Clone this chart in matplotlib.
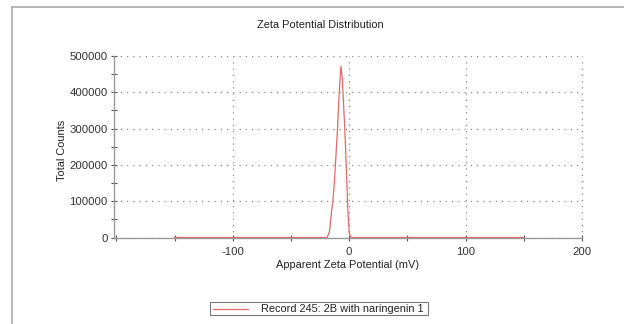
import matplotlib
matplotlib.use("Agg")
import matplotlib.pyplot as plt
from matplotlib.lines import Line2D
from matplotlib.patches import Rectangle
from matplotlib.ticker import MultipleLocator

plt.rcParams['font.family'] = ['Liberation Sans', 'DejaVu Sans']
plt.rcParams['axes.unicode_minus'] = False

# Data
zeta_mv = [-150, -19, -17, -16, -15, -14, -13, -12, -11, -10, -9, -8, -7,
           -6, -5, -4, -3, -2, -1, 0, 1, 2, 150]
counts = [0, 0, 15000, 45000, 75000, 100000, 140000, 190000, 245000, 300000,
          370000, 430000, 472000, 440000, 380000, 315000, 240000, 150000,
          70000, 15000, 3000, 0, 0]
x_ticks = [-100, 0, 100, 200]
y_ticks = [0, 100000, 200000, 300000, 400000, 500000]
title = "Zeta Potential Distribution"
xlabel = "Apparent Zeta Potential (mV)"
ylabel = "Total Counts"
legend_label = "Record 245: 2B with naringenin 1"

W, H = 624, 324
fig = plt.figure(figsize=(W / 100, H / 100), dpi=100)

# outer frame (top and left border lines)
fig.add_artist(Line2D([12 / W, 1.0], [1 - 7 / H, 1 - 7 / H], color='#aaaaaa', lw=1.2))
fig.add_artist(Line2D([12 / W, 12 / W], [0, 1 - 7 / H], color='#aaaaaa', lw=1.2))

left, right = 114 / W, 582 / W
bottom, top = 1 - 237.5 / H, 1 - 56 / H
ax = fig.add_axes([left, bottom, right - left, top - bottom])

line_color = '#e06a6a'
ax.plot(zeta_mv, counts, color=line_color, lw=0.9, zorder=3)

ax.set_xlim(-202, 200)
ax.set_ylim(0, 500000)
ax.set_xticks(x_ticks)
ax.set_xticklabels([str(v) for v in x_ticks])
ax.set_yticks(y_ticks)
ax.set_yticklabels([str(v) for v in y_ticks])
ax.xaxis.set_minor_locator(MultipleLocator(50))
ax.yaxis.set_minor_locator(MultipleLocator(50000))

for s in ['top', 'right']:
    ax.spines[s].set_visible(False)
for s in ['left', 'bottom']:
    ax.spines[s].set_color('#9a9a9a')
    ax.spines[s].set_linewidth(1.0)

ax.tick_params(which='both', direction='inout', color='#555555', width=0.8,
               labelsize=8.2, labelcolor='#333333')
ax.tick_params(which='major', length=5)
ax.tick_params(which='minor', length=5)
ax.tick_params(axis='x', pad=4)
ax.tick_params(axis='y', pad=2)

ax.grid(True, which='major', color='#8a8a8a', lw=0.9, linestyle=(0, (1, 4)))
ax.set_axisbelow(True)
ax.axvline(200, color='#8a8a8a', lw=0.9, linestyle=(0, (1, 4)), clip_on=False)

fs = 7.9
fig.text(320 / W, 1 - 25 / H, title, ha='center', va='center', fontsize=fs, color='#222222')
fig.text(348 / W, 1 - 265 / H, xlabel, ha='center', va='center', fontsize=fs, color='#222222')
fig.text(62 / W, 1 - 150 / H, ylabel, ha='center', va='center', rotation=90,
         fontsize=fs, color='#222222')

# legend box
lx0, lx1 = 210 / W, 428 / W
ly0, ly1 = 1 - 315 / H, 1 - 302 / H
fig.add_artist(Rectangle((lx0, ly0), lx1 - lx0, ly1 - ly0, transform=fig.transFigure,
                         facecolor='white', edgecolor='#777777', lw=0.8))
fig.add_artist(Line2D([213 / W, 248 / W], [(ly0 + ly1) / 2] * 2, color=line_color, lw=0.9))
fig.text(261 / W, (ly0 + ly1) / 2, legend_label, ha='left', va='center', fontsize=fs,
         color='#222222')

fig.savefig('out.png', dpi=100)
